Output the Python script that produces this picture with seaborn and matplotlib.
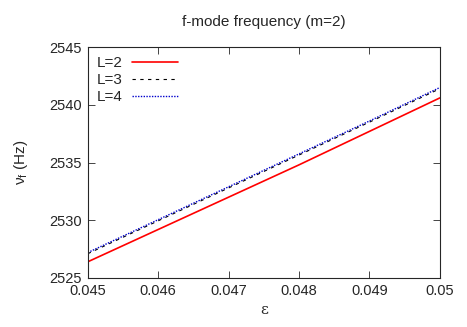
import numpy as np
import pandas as pd
import seaborn as sns
import matplotlib
matplotlib.use("Agg")
import matplotlib.pyplot as plt

# data
eps = [0.045, 0.046, 0.047, 0.048, 0.049, 0.050]
nu_L2 = [2526.4, 2529.2, 2532.0, 2534.8, 2537.7, 2540.6]
nu_L3 = [2527.1, 2529.95, 2532.8, 2535.65, 2538.5, 2541.4]
nu_L4 = [2527.2, 2530.05, 2532.9, 2535.75, 2538.6, 2541.5]
labels = ["L=2", "L=3", "L=4"]

df = pd.DataFrame({
    "eps": eps * 3,
    "nu": nu_L2 + nu_L3 + nu_L4,
    "L": [labels[0]] * 6 + [labels[1]] * 6 + [labels[2]] * 6,
})

sns.set_style("ticks")
plt.rcParams['font.family'] = ['Liberation Sans', 'DejaVu Sans']
plt.rcParams['mathtext.fontset'] = 'custom'
plt.rcParams['mathtext.rm'] = 'Liberation Sans'
plt.rcParams['mathtext.it'] = 'Liberation Sans'

fig = plt.figure(figsize=(4.67, 3.27), dpi=100)
ax = fig.add_axes([0.188, 0.150, 0.754, 0.706])

palette = {"L=2": "#ff0000", "L=3": "#000000", "L=4": "#0000cc"}
dashes = {"L=2": "", "L=3": (3, 4), "L=4": (1, 1)}
widths = [1.2, 0.8, 1.0]
sns.lineplot(data=df, x="eps", y="nu", hue="L", style="L", palette=palette,
             dashes=dashes, ax=ax)
for line, lw in zip(ax.get_lines()[:3], widths):
    line.set_linewidth(lw)

ax.set_xlim(0.045, 0.05)
ax.set_ylim(2525, 2545)
ax.set_xticks(eps)
ax.set_xticklabels(["0.045", "0.046", "0.047", "0.048", "0.049", "0.05"])
ax.set_yticks([2525, 2530, 2535, 2540, 2545])
ax.tick_params(direction="in", top=True, right=True, labelsize=10.5, length=5, width=0.6, pad=4)
for s in ax.spines.values():
    s.set_linewidth(0.8)

ax.set_xlabel("ε", fontsize=11, family=['DejaVu Serif'])
ax.set_ylabel(r"ν$_\mathregular{f}$ (Hz)", fontsize=11, labelpad=14)
ax.set_title("f-mode frequency (m=2)", fontsize=11, pad=15)

leg = ax.legend(loc="upper left", frameon=False, markerfirst=False, fontsize=11,
                handlelength=3.0, handletextpad=0.6, labelspacing=0.2,
                borderaxespad=0.2, borderpad=0.4)
for h, lw in zip(leg.get_lines(), widths):
    h.set_linewidth(lw)

fig.savefig("out.png", dpi=100)
